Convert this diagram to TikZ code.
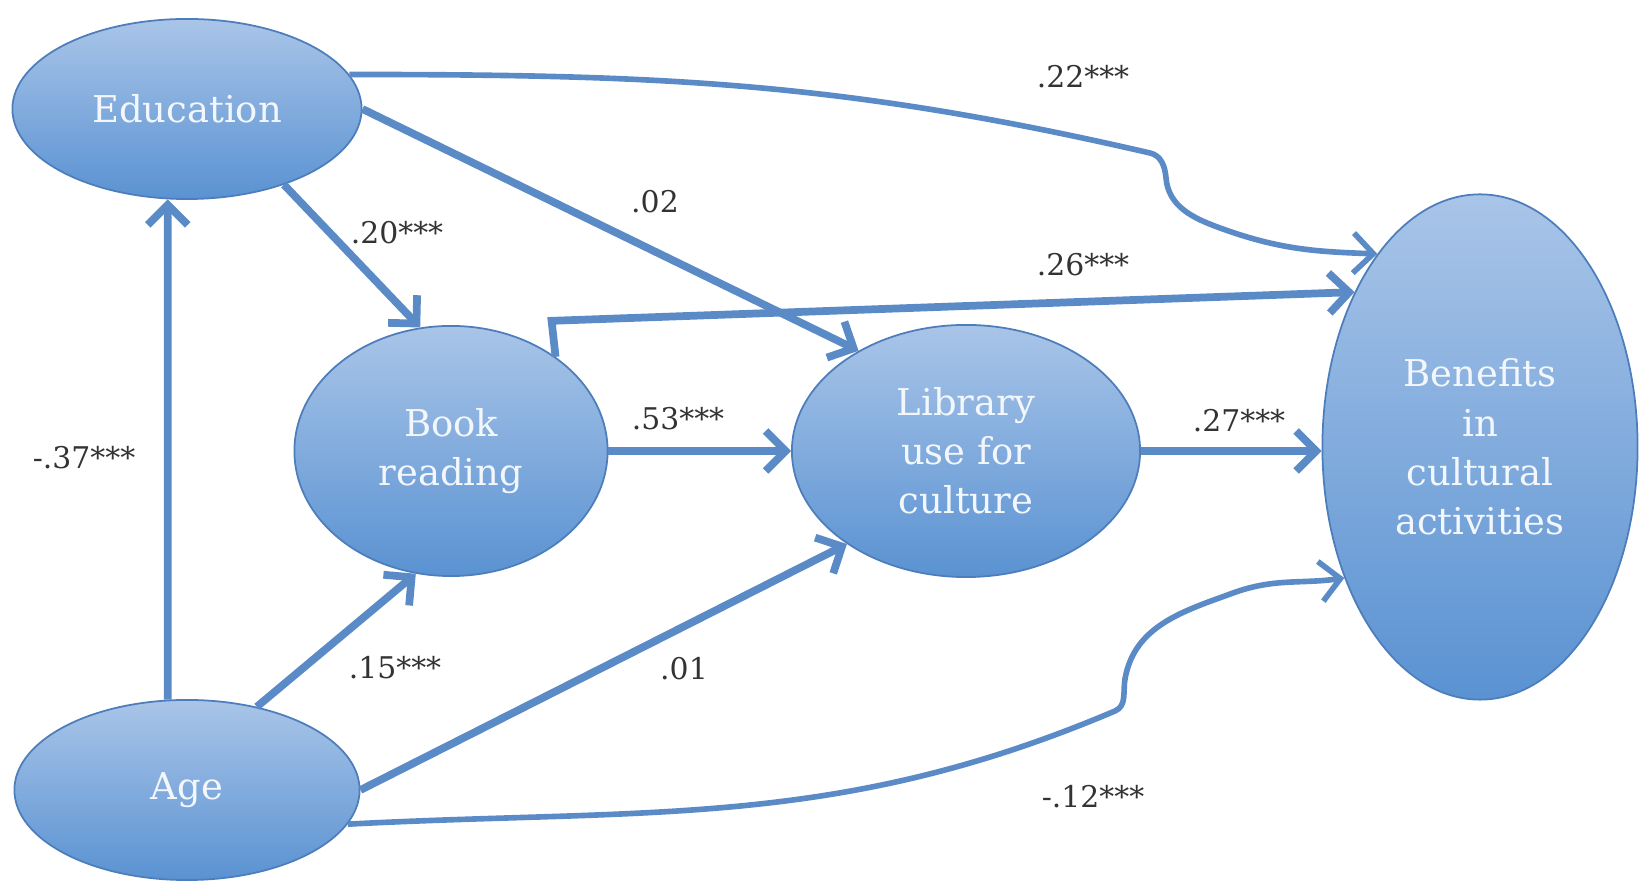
\documentclass[tikz,border=0pt]{standalone}
\usepackage{fontspec}
\setmainfont{DejaVu Serif}
\usetikzlibrary{shapes.geometric,arrows.meta}

\definecolor{vartop}{HTML}{A9C5E8}
\definecolor{varbot}{HTML}{5A92D2}
\definecolor{varline}{HTML}{4D7EBB}
\definecolor{vartext}{HTML}{F3F7FC}
\definecolor{linkblue}{HTML}{5B8BC7}

\tikzset{
	var/.style={ellipse, draw=varline, line width=.5pt, top color=vartop, bottom color=varbot,
		text=vartext, inner sep=0pt, align=center, font=\fontsize{10.5}{14}\selectfont},
	coef/.style={font=\fontsize{8.5}{10}\selectfont, text=black!80},
	link/.style={draw=linkblue, line width=2.2pt, -{Straight Barb[length=2mm,width=4mm]}},
	curvelink/.style={link, line width=1.6pt}
}

\begin{document}
\begin{tikzpicture}[x=0.01cm,y=0.01cm]
		\useasboundingbox (0,0) rectangle (1645,891);

		% variables
		\node[var, minimum width=3.49cm, minimum height=1.8cm] (edu) at (187,782) {Education};
		\node[var, minimum width=3.45cm, minimum height=1.8cm] (age) at (187,101) {Age};
		\node[var, minimum width=3.13cm, minimum height=2.5cm] (book) at (451,440) {Book\\reading};
		\node[var, minimum width=3.48cm, minimum height=2.52cm] (lib) at (966,440) {Library\\use for\\culture};
		\node[var, minimum width=3.15cm, minimum height=5.05cm] (ben) at (1480,444) {Benefits\\in\\cultural\\activities};

		% paths
		\draw[link] (age.102) -- (edu.258);
		\draw[link] (edu.-38) -- (book.104);
		\draw[link] (edu.east) -- (lib.137);
		\draw[link] (age.50) -- (book.-106);
		\draw[link] (age.east) -- (lib.-142);
		\draw[link] (book.east) -- (lib.west);
		\draw[link] (lib.east) -- (lib.east -| ben.west);
		\draw[link] (book.42) -- ++(-4,36) -- (ben.129);
		\draw[curvelink] (edu.12) to[out=0,in=167] (1150,738) to[out=-13,in=95] (1166,713)
			to[out=-85,in=160] (1220,663) to[out=-20,in=178] (ben.118);
		\draw[curvelink] (age.-12) to[out=3,in=-157] (1115,180) to[out=23,in=-100] (1125,212)
			to[out=80,in=-160] (1233,298) to[out=20,in=-172] (ben.-136);

		% coefficients
		\node[coef] (c22) at (1083,814) {.22***};
		\node[coef] (c02) at (655,689) {.02};
		\node[coef] (c20) at (397,658) {.20***};
		\node[coef] (c26) at (1083,626) {.26***};
		\node[coef] (c53) at (678,472) {.53***};
		\node[coef] (c27) at (1239,470) {.27***};
		\node[coef] (c37) at (84,433) {-.37***};
		\node[coef] (c15) at (395,223) {.15***};
		\node[coef] (c01) at (684,222) {.01};
		\node[coef] (c12) at (1093,94) {-.12***};
\end{tikzpicture}
\end{document}
